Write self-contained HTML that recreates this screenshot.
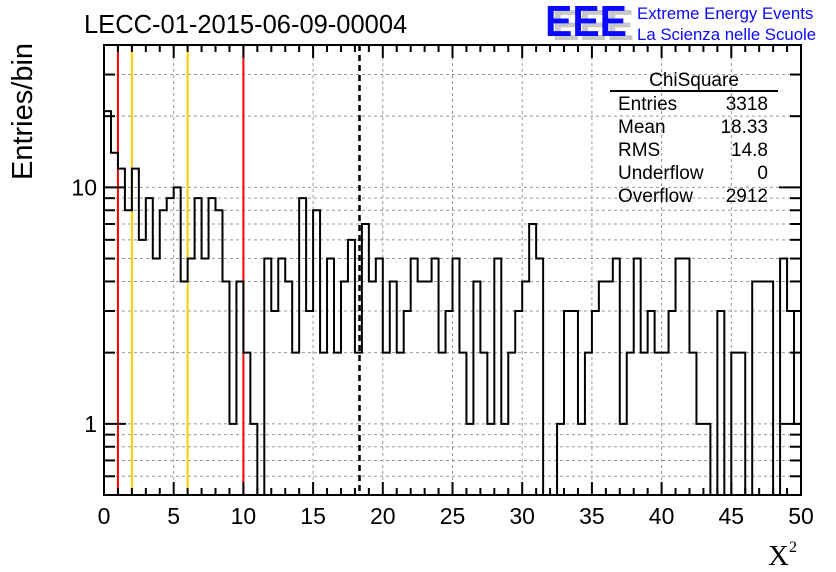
<!DOCTYPE html>
<html><head><meta charset="utf-8">
<style>
html,body{margin:0;padding:0;background:#fff;}
svg{display:block;font-family:"Liberation Sans",sans-serif;}
</style></head>
<body>
<svg id="c" width="836" height="572" viewBox="0 0 836 572" xmlns="http://www.w3.org/2000/svg">
<g id="grid"></g>
<g id="lines"></g>
<path id="hist" fill="none" stroke="#000" stroke-width="2"/>
<g id="axes"></g>
<text x="84" y="33" font-size="25.5">LECC-01-2015-06-09-00004</text>
<text transform="translate(32,180) rotate(-90)" font-size="29">Entries/bin</text>
<text x="768" y="565" font-size="29" font-family="Liberation Serif,serif">X<tspan font-size="16" dy="-13">2</tspan></text>
<g>
<text x="552" y="40" font-size="44" font-weight="bold" fill="#c8c8c8" textLength="82" lengthAdjust="spacingAndGlyphs">EEE</text>
<text x="545" y="36" font-size="44" font-weight="bold" fill="#0a0aff" textLength="82" lengthAdjust="spacingAndGlyphs">EEE</text>
<text x="637" y="19" font-size="16.8" fill="#0a0aff">Extreme Energy Events</text>
<text x="637" y="40" font-size="16.8" fill="#0a0aff">La Scienza nelle Scuole</text>
</g>
<g font-size="19">
<text x="694" y="86" text-anchor="middle">ChiSquare</text>
<line x1="610" y1="91" x2="778" y2="91" stroke="#000" stroke-width="2"/>
<text x="618" y="110">Entries</text><text x="768" y="110" text-anchor="end">3318</text>
<text x="618" y="133">Mean</text><text x="768" y="133" text-anchor="end">18.33</text>
<text x="618" y="156">RMS</text><text x="768" y="156" text-anchor="end">14.8</text>
<text x="618" y="179">Underflow</text><text x="768" y="179" text-anchor="end">0</text>
<text x="618" y="202">Overflow</text><text x="768" y="202" text-anchor="end">2912</text>
</g>
</svg>
<script>
const counts = [21,14,12,8,12,6,9,5,8,9,10,4,5,9,5,9,8,4,1,4,2,1,0,5,3,5,4,2,9,3,8,2,5,2,4,6,2,7,4,5,2,4,2,3,5,4,4,5,2,3,5,2,1,4,2,1,5,1,2,3,4,7,5,0,0,1,3,3,1,2,3,4,4,5,1,2,5,2,3,2,2,3,5,5,2,1,1,0,3,0,2,2,0,4,4,4,0,5,3,1];
const xTicks = [0,5,10,15,20,25,30,35,40,45,50];
const yMajor = [1,10];
const yMinor = [0.6,0.7,0.8,0.9,2,3,4,5,6,7,8,9,20,30];
const redCuts = [1,10];
const orangeCuts = [2,6];
const meanValue = 18.33;
const X0=104,X1=801,Y0=45,Y1=495,XMIN=0,XMAX=50,YMIN=0.5,YMAX=40;
const binW=0.5;
const sx=v=>X0+(v-XMIN)/(XMAX-XMIN)*(X1-X0);
const sy=v=>v<=0?Y1:Y1-(Math.log10(v)-Math.log10(YMIN))/(Math.log10(YMAX)-Math.log10(YMIN))*(Y1-Y0);
const NS="http://www.w3.org/2000/svg";
function mk(tag,attrs,parent){const e=document.createElementNS(NS,tag);for(const k in attrs)e.setAttribute(k,attrs[k]);parent.appendChild(e);return e;}
const grid=document.getElementById('grid'),axes=document.getElementById('axes'),lines=document.getElementById('lines');
xTicks.forEach(t=>{if(t>XMIN&&t<XMAX){const l=mk('line',{x1:sx(t),x2:sx(t),y1:Y0,y2:Y1,stroke:'#999','stroke-dasharray':'3,3','stroke-width':1},grid);

}});
yMajor.concat(yMinor).forEach(t=>{const l=mk('line',{x1:X0,x2:X1,y1:sy(t),y2:sy(t),stroke:'#999','stroke-dasharray':'3,3','stroke-width':1},grid);

});
redCuts.forEach(v=>{const l=mk('line',{x1:sx(v),x2:sx(v),y1:Y0,y2:Y1,stroke:'#ff0000','stroke-width':2},lines);

});
orangeCuts.forEach(v=>{const l=mk('line',{x1:sx(v),x2:sx(v),y1:Y0,y2:Y1,stroke:'#ffcc00','stroke-width':2},lines);

});
const ml=mk('line',{x1:sx(meanValue),x2:sx(meanValue),y1:Y0,y2:Y1,stroke:'#000','stroke-width':2.5,'stroke-dasharray':'6,4'},lines);


let d='M'+sx(0)+','+Y1;
counts.forEach((c,i)=>{const y=sy(c);d+=' L'+sx(i*binW)+','+y+' L'+sx((i+1)*binW)+','+y;});
d+=' L'+sx(counts.length*binW)+','+Y1;
document.getElementById('hist').setAttribute('d',d);
const fr=mk('rect',{x:X0,y:Y0,width:X1-X0,height:Y1-Y0,fill:'none',stroke:'#000','stroke-width':2},axes);


for(let v=XMIN;v<=XMAX;v+=1){const major=v%5===0;const L=major?13:7;
mk('line',{x1:sx(v),x2:sx(v),y1:Y1,y2:Y1-L,stroke:'#000','stroke-width':2},axes);
mk('line',{x1:sx(v),x2:sx(v),y1:Y0,y2:Y0+L,stroke:'#000','stroke-width':2},axes);}
xTicks.forEach(t=>{const tx=mk('text',{x:sx(t),y:524,'font-size':23,'text-anchor':'middle'},axes);tx.textContent=t;

});
yMajor.forEach(t=>{mk('line',{x1:X0,x2:X0+22,y1:sy(t),y2:sy(t),stroke:'#000','stroke-width':2},axes);
mk('line',{x1:X1,x2:X1-22,y1:sy(t),y2:sy(t),stroke:'#000','stroke-width':2},axes);
const tx=mk('text',{x:97,y:sy(t)+8,'font-size':23,'text-anchor':'end'},axes);tx.textContent=t;

});
yMinor.forEach(t=>{mk('line',{x1:X0,x2:X0+11,y1:sy(t),y2:sy(t),stroke:'#000','stroke-width':2},axes);
mk('line',{x1:X1,x2:X1-11,y1:sy(t),y2:sy(t),stroke:'#000','stroke-width':2},axes);});
</script>
</body></html>
